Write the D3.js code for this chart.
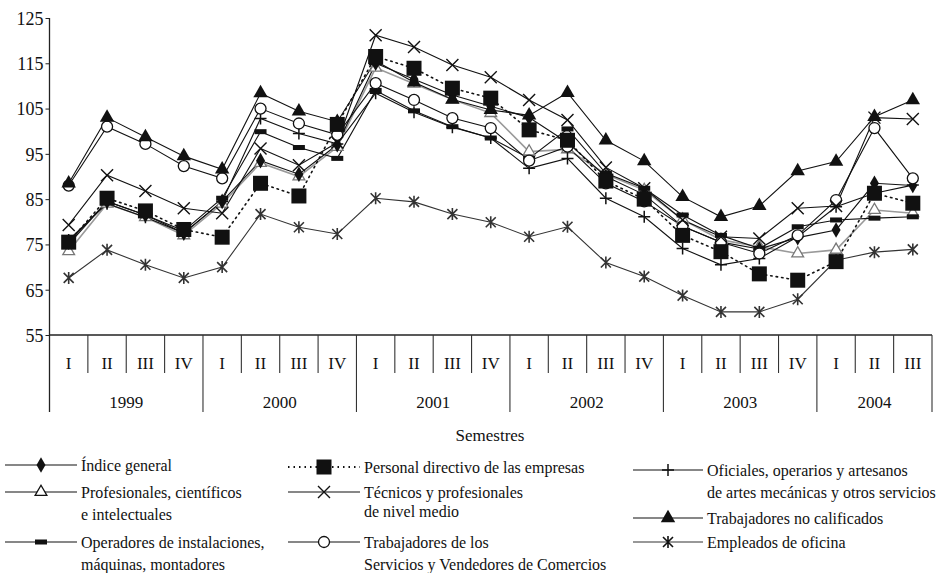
<!DOCTYPE html>
<html><head><meta charset="utf-8">
<script src="https://cdn.jsdelivr.net/npm/d3@7"></script>
<style>
body{margin:0;background:#fff;}
svg text{font-family:"Liberation Serif","Times New Roman",serif;fill:#111;}
</style></head>
<body><svg id="c" width="946" height="573"></svg>
<script>
// ---- data ----
const quarters = ["I","II","III","IV","I","II","III","IV","I","II","III","IV","I","II","III","IV","I","II","III","IV","I","II","III"];
const years = ["1999","2000","2001","2002","2003","2004"];
const yearCounts = [4,4,4,4,4,3];
const yTicks = [55,65,75,85,95,105,115,125];

const indiceGeneral   = [75.5,84.5,81.5,77.5, 84.5,93.5,90.5,97, 115,111.5,108,105.5, 103,97.5,90,86, 79,75.5,74,76.5, 78.2,88.5,88];
const profesionales   = [73.5,84,81,77, 84,93,90,96.5, 114,110.5,107,104, 95.5,96,90.5,87, 80.5,76,74.5,73, 73.8,82.6,81.9];
const operadores      = [75,84.5,81.5,78, 85.2,99.9,96.4,94, 109,104.5,101,98.5, 94,100.5,90.7,87.4, 81.5,77,74.1,78.9, 80.4,80.8,81.1];
const directivo       = [75.5,85.2,82.4,78.3, 76.6,88.5,85.7,101.5, 116.5,113.9,109.5,107.3, 100.3,98,89,85, 77,73.4,68.5,67.1, 71.2,86.3,84.1];
const tecnicos        = [79.3,90.3,86.8,83, 81.9,96.2,92.5,97.5, 121.2,118.6,114.6,111.9, 106.9,102.5,92,87.4, 80.4,76.7,76.3,83, 83.5,103,102.7];
const servicios       = [88,101,97.2,92.3, 89.6,105,101.7,99.2, 110.6,106.9,102.9,100.7, 93.5,96.6,88.5,84.5, 79,75.5,73,77, 84.8,100.7,89.6];
const oficiales       = [76,84,81,77.5, 84.5,102.8,99.5,97.2, 108.4,104.2,100.9,98.5, 91.8,94,85.2,81.1, 74.1,70.5,71.9,76.7, 83.3,86.3,88.1];
const noCalificados   = [88.5,103,98.7,94.5, 91.6,108.4,104.4,102.1, 115.5,110.8,107,104.7, 103.5,108.5,98,93.4, 85.5,81.1,83.5,91.2, 93.3,103.2,106.9];
const empleados       = [67.6,73.8,70.5,67.6, 70,81.7,78.8,77.3, 85.2,84.4,81.7,79.9, 76.7,78.9,71,67.9, 63.7,60.1,60.1,62.9, 71.5,73.3,73.9];

const seriesNames = ["Índice general","Profesionales, científicos|e intelectuales","Operadores de instalaciones,|máquinas, montadores",
  "Personal directivo de las empresas","Técnicos y profesionales|de nivel medio","Trabajadores de los|Servicios y Vendedores de Comercios",
  "Oficiales, operarios y artesanos|de artes mecánicas y otros servicios","Trabajadores no calificados","Empleados de oficina"];

const series = [
  {name:seriesNames[1], values:profesionales, marker:"otri", color:"#9a9a9a", dash:null, w:1.6},
  {name:seriesNames[0], values:indiceGeneral, marker:"diamond", color:"#111", dash:null, w:1.1},
  {name:seriesNames[2], values:operadores, marker:"dash", color:"#111", dash:null, w:1.1},
  {name:seriesNames[6], values:oficiales, marker:"plus", color:"#111", dash:null, w:1.1},
  {name:seriesNames[5], values:servicios, marker:"circle", color:"#111", dash:null, w:1.1},
  {name:seriesNames[4], values:tecnicos, marker:"x", color:"#111", dash:null, w:1.1},
  {name:seriesNames[8], values:empleados, marker:"star", color:"#333", dash:null, w:1.1},
  {name:seriesNames[7], values:noCalificados, marker:"tri", color:"#111", dash:null, w:1.1},
  {name:seriesNames[3], values:directivo, marker:"square", color:"#111", dash:"1.5,4", w:1.6}
];

// ---- layout ----
const svg = d3.select("#c");
const x0 = 49.5, x1 = 932, yTop = 18, yBot = 335;
const x = d3.scaleBand().domain(d3.range(quarters.length)).range([x0, x1]).paddingInner(0).paddingOuter(0);
const y = d3.scaleLinear().domain([55,125]).range([yBot, yTop]);
const cx = i => x(i) + x.bandwidth()/2;

// y axis
const yAxis = d3.axisLeft(y).tickValues(yTicks).tickSize(4).tickPadding(2).tickFormat(d3.format("d"));
const gy = svg.append("g").attr("transform",`translate(${x0},0)`).call(yAxis);
gy.select(".domain").remove();
gy.selectAll("line").attr("stroke","#222");
gy.selectAll("text").style("font-size","18px").attr("dy","0.35em");
svg.append("line").attr("x1",x0).attr("x2",x0).attr("y1",yTop).attr("y2",412).attr("stroke","#222").attr("stroke-width",1.3);
// x axis line
svg.append("line").attr("x1",x0).attr("x2",x1).attr("y1",yBot).attr("y2",yBot).attr("stroke","#222").attr("stroke-width",1.5);

// category dividers and labels
let yearStarts = [0]; yearCounts.forEach((c,i)=>yearStarts.push(yearStarts[i]+c));
for(let i=1;i<=quarters.length;i++){
  const xb = i<quarters.length ? x(i) : x1;
  const isYear = yearStarts.includes(i);
  svg.append("line").attr("x1",xb).attr("x2",xb).attr("y1",yBot).attr("y2",isYear?412:373)
    .attr("stroke","#333").attr("stroke-width",1.1);
}
svg.append("g").selectAll("text").data(quarters).join("text")
  .attr("x",(d,i)=>cx(i)).attr("y",363).attr("dy","0.35em").attr("text-anchor","middle")
  .style("font-size","17px").text(d=>d);
svg.append("g").selectAll("text").data(years).join("text")
  .attr("x",(d,i)=>{const a=x(yearStarts[i]); const b=yearStarts[i+1]<quarters.length?x(yearStarts[i+1]):x1; return (a+b)/2;})
  .attr("y",402).attr("dy","0.35em").attr("text-anchor","middle").style("font-size","17px").text(d=>d);
svg.append("text").attr("x",490).attr("y",435).attr("dy","0.35em").attr("text-anchor","middle")
  .style("font-size","17px").text("Semestres");

// markers
function drawMarker(g, type, px, py, color){
  const s = g.append("g").attr("transform",`translate(${px},${py})`);
  switch(type){
    case "diamond": s.append("path").attr("d",d3.symbol(d3.symbolDiamond,70)()).attr("fill",color); break;
    case "otri": s.append("path").attr("d",d3.symbol(d3.symbolTriangle,60)()).attr("fill","#fff").attr("stroke",color).attr("stroke-width",1.3); break;
    case "tri": s.append("path").attr("d",d3.symbol(d3.symbolTriangle,90)()).attr("fill",color); break;
    case "square": s.append("rect").attr("x",-7.5).attr("y",-7.5).attr("width",15).attr("height",15).attr("fill",color); break;
    case "dash": s.append("rect").attr("x",-6).attr("y",-2.5).attr("width",12).attr("height",5).attr("fill",color); break;
    case "circle": s.append("circle").attr("r",5.5).attr("fill","#fff").attr("stroke",color).attr("stroke-width",1.3); break;
    case "plus": s.append("path").attr("d","M-6,0H6M0,-6V6").attr("stroke",color).attr("stroke-width",1.5); break;
    case "x": s.append("path").attr("d","M-6,-6L6,6M-6,6L6,-6").attr("stroke",color).attr("stroke-width",1.4); break;
    case "star": s.append("path").attr("d","M-5,-5L5,5M-5,5L5,-5M0,-6V6").attr("stroke",color).attr("stroke-width",1.6); break;
  }
}

const line = d3.line().x((d,i)=>cx(i)).y(d=>y(d));
const plot = svg.append("g");
series.forEach(s=>{
  plot.append("path").attr("d",line(s.values)).attr("fill","none").attr("stroke",s.color)
    .attr("stroke-width",s.w).attr("stroke-dasharray",s.dash).attr("stroke-linecap","round");
});
series.forEach(s=>{
  const g = plot.append("g");
  s.values.forEach((v,i)=>drawMarker(g, s.marker, cx(i), y(v), s.color==="#9a9a9a"?"#777":s.color));
});

// legend
const legendItems = [
  {s:1, x:5, y:465}, {s:0, x:5, y:492}, {s:2, x:5, y:542},
  {s:8, x:288, y:467}, {s:5, x:288, y:492}, {s:4, x:288, y:542},
  {s:3, x:633, y:470}, {s:7, x:633, y:518}, {s:6, x:633, y:542}
];
const lg = svg.append("g");
legendItems.forEach(it=>{
  const s = series[it.s];
  const lx0 = it.x, lx1 = it.x + (it.x<600 ? 72 : 70);
  lg.append("line").attr("x1",lx0).attr("x2",lx1).attr("y1",it.y).attr("y2",it.y)
    .attr("stroke",s.color==="#9a9a9a"?"#111":s.color).attr("stroke-width",s.dash?1.8:1.1).attr("stroke-dasharray",s.dash);
  drawMarker(lg, s.marker, (lx0+lx1)/2, it.y, "#111");
  const parts = s.name.split("|");
  const tx = lx1 + 4;
  parts.forEach((p,k)=>{
    lg.append("text").attr("x", tx).attr("y", it.y + k*(it.s===5?19:22)).attr("dy","0.35em")
      .style("font-size","16px").text(p);
  });
});
</script></body></html>
